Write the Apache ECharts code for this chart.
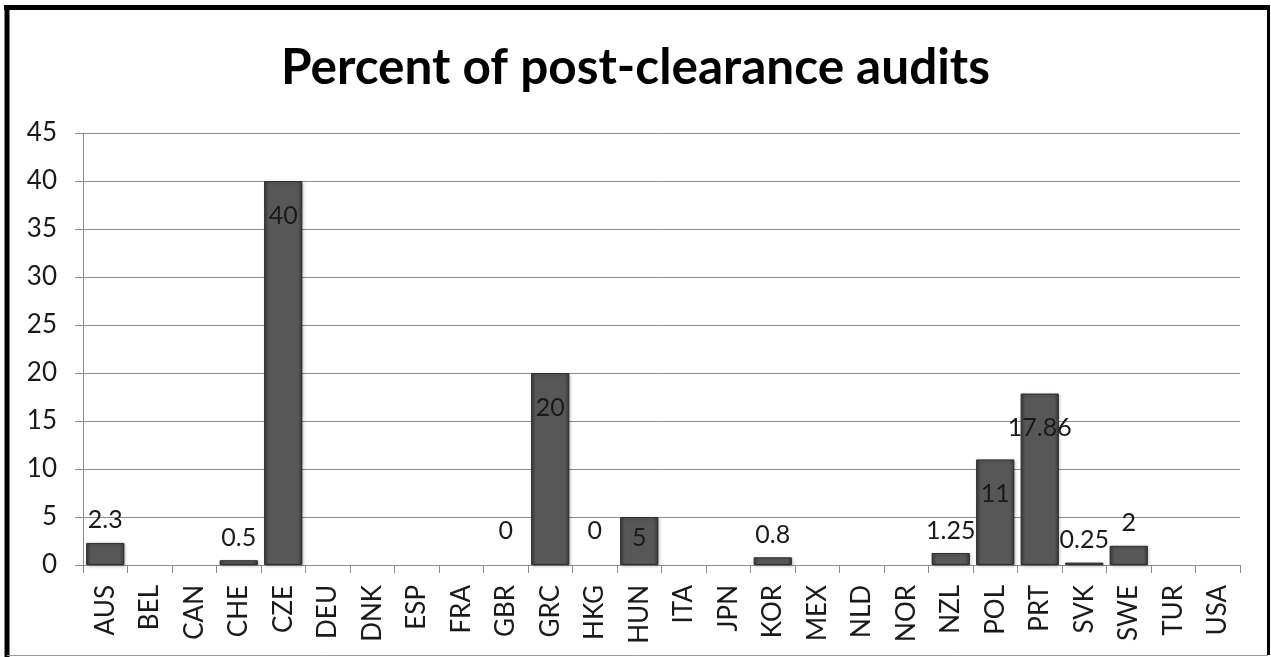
<!DOCTYPE html>
<html>
<head>
<meta charset="utf-8">
<script src="https://cdn.jsdelivr.net/npm/echarts@6/dist/echarts.min.js"></script>
<style>
    html, body { margin: 0; padding: 0; background: #ffffff; }
    #chart { width: 1271px; height: 657px; }
</style>
</head>
<body>
<div id="chart"></div>
<script>
// 国家代码
var countries = ['AUS', 'BEL', 'CAN', 'CHE', 'CZE', 'DEU', 'DNK', 'ESP', 'FRA', 'GBR', 'GRC', 'HKG', 'HUN',
    'ITA', 'JPN', 'KOR', 'MEX', 'NLD', 'NOR', 'NZL', 'POL', 'PRT', 'SVK', 'SWE', 'TUR', 'USA'];
// 数值（null 为无数据）
var auditPercent = [2.3, null, null, 0.5, 40, null, null, null, null, 0, 20, 0, 5,
    null, null, 0.8, null, null, null, 1.25, 11, 17.86, 0.25, 2, null, null];
var yTicks = {min: 0, max: 45, interval: 5};

var myChart = echarts.init(document.getElementById('chart'));

var barColor = {
    type: 'linear', x: 0, y: 0, x2: 1, y2: 0,
    colorStops: [
        {offset: 0, color: '#3a3a3a'},
        {offset: 0.12, color: '#575757'},
        {offset: 0.88, color: '#575757'},
        {offset: 1, color: '#383838'}
    ]
};

var seriesData = auditPercent.map(function (v) {
    if (v === null) return null;
    var item = {value: v};
    if (v >= 10) {
        item.label = {position: 'insideTop', distance: 22};
    } else if (v >= 5) {
        item.label = {position: 'insideTop', distance: 8};
    } else if (v === 0) {
        // 零值只显示标签
        item.label = {position: 'top', distance: 22};
        item.itemStyle = {color: 'transparent', borderWidth: 0, shadowBlur: 0, shadowColor: 'transparent'};
    } else {
        item.label = {position: 'top', distance: 10};
    }
    return item;
});

var option = {
    backgroundColor: '#ffffff',
    animation: false,
    title: {
        text: 'Percent of post-clearance audits',
        left: 'center',
        top: 38,
        textStyle: {
            fontFamily: 'Lato',
            fontWeight: 'bold',
            fontSize: 49.5,
            color: '#000000'
        }
    },
    grid: {
        left: 83,
        right: 31,
        top: 133,
        bottom: 92
    },
    xAxis: {
        type: 'category',
        data: countries,
        axisLine: {lineStyle: {color: '#8c8c8c', width: 1}},
        axisTick: {show: true, length: 8, lineStyle: {color: '#8c8c8c'}},
        axisLabel: {
            rotate: 90,
            interval: 0,
            margin: 20,
            fontFamily: 'Lato',
            fontSize: 26,
            color: '#1a1a1a'
        }
    },
    yAxis: {
        type: 'value',
        min: yTicks.min,
        max: yTicks.max,
        interval: yTicks.interval,
        axisLine: {show: true, lineStyle: {color: '#8c8c8c', width: 1}},
        axisTick: {show: true, length: 8, lineStyle: {color: '#8c8c8c'}},
        axisLabel: {
            margin: 26,
            fontFamily: 'Lato',
            fontSize: 26,
            color: '#1a1a1a'
        },
        splitLine: {lineStyle: {color: '#8c8c8c', width: 1}}
    },
    series: [{
        type: 'bar',
        data: seriesData,
        barCategoryGap: '14%',
        itemStyle: {
            color: barColor,
            borderColor: '#2e2e2e',
            borderWidth: 1,
            shadowColor: 'rgba(0,0,0,0.25)',
            shadowBlur: 3,
            shadowOffsetX: 1,
            shadowOffsetY: 1
        },
        label: {
            show: true,
            fontFamily: 'Lato',
            fontSize: 25,
            color: '#1a1a1a'
        }
    }],
    graphic: [
        {type: 'line', shape: {x1: 4, y1: 7.5, x2: 1270, y2: 7.5}, style: {stroke: '#000', lineWidth: 5}},
        {type: 'line', shape: {x1: 7, y1: 5, x2: 7, y2: 657}, style: {stroke: '#000', lineWidth: 5}},
        {type: 'line', shape: {x1: 1268.5, y1: 5, x2: 1268.5, y2: 655}, style: {stroke: '#000', lineWidth: 3}},
        {type: 'line', shape: {x1: 7, y1: 655.5, x2: 1268, y2: 655.5}, style: {stroke: '#9a9a9a', lineWidth: 1}}
    ]
};

myChart.setOption(option);
</script>
</body>
</html>
